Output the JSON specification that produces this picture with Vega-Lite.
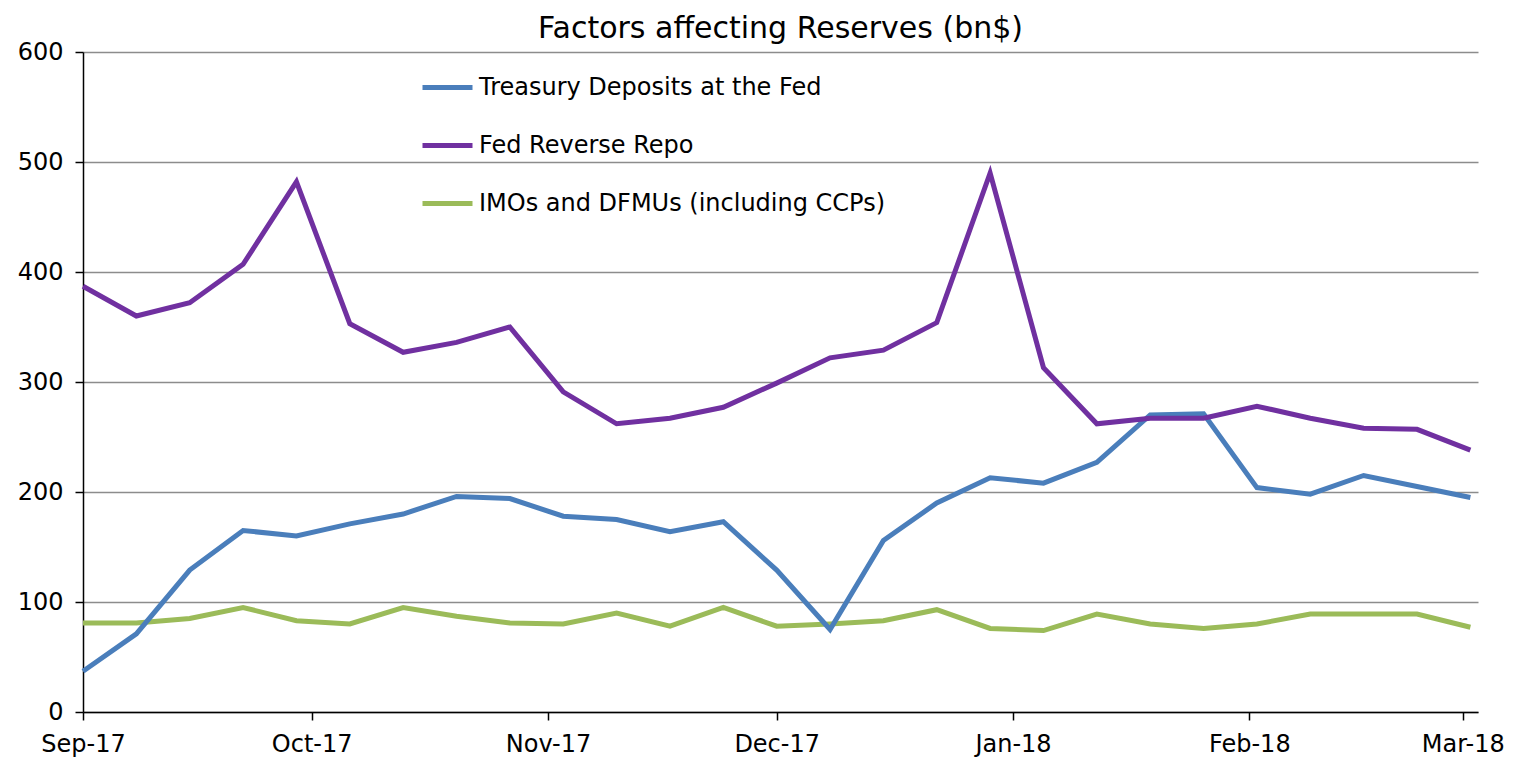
{
  "$schema": "https://vega.github.io/schema/vega-lite/v6.json",
  "autosize": "none",
  "width": 1395,
  "height": 660,
  "padding": {"left": 83, "top": 52, "right": 52, "bottom": 48},
  "background": "white",
  "title": {
    "text": "Factors affecting Reserves (bn$)",
    "font": "DejaVu Sans",
    "fontSize": 30,
    "fontWeight": "normal",
    "color": "#000000",
    "anchor": "middle",
    "offset": -4
  },
  "config": {
    "view": {"stroke": null},
    "axis": {"labelFont": "DejaVu Sans", "labelFontSize": 24, "labelColor": "#000000"}
  },
  "data": {
    "values": [
      {"date": "2017-09-06", "series": "IMOs and DFMUs (including CCPs)", "value": 81},
      {"date": "2017-09-13", "series": "IMOs and DFMUs (including CCPs)", "value": 81},
      {"date": "2017-09-20", "series": "IMOs and DFMUs (including CCPs)", "value": 85},
      {"date": "2017-09-27", "series": "IMOs and DFMUs (including CCPs)", "value": 95},
      {"date": "2017-10-04", "series": "IMOs and DFMUs (including CCPs)", "value": 83},
      {"date": "2017-10-11", "series": "IMOs and DFMUs (including CCPs)", "value": 80},
      {"date": "2017-10-18", "series": "IMOs and DFMUs (including CCPs)", "value": 95},
      {"date": "2017-10-25", "series": "IMOs and DFMUs (including CCPs)", "value": 87},
      {"date": "2017-11-01", "series": "IMOs and DFMUs (including CCPs)", "value": 81},
      {"date": "2017-11-08", "series": "IMOs and DFMUs (including CCPs)", "value": 80},
      {"date": "2017-11-15", "series": "IMOs and DFMUs (including CCPs)", "value": 90},
      {"date": "2017-11-22", "series": "IMOs and DFMUs (including CCPs)", "value": 78},
      {"date": "2017-11-29", "series": "IMOs and DFMUs (including CCPs)", "value": 95},
      {"date": "2017-12-06", "series": "IMOs and DFMUs (including CCPs)", "value": 78},
      {"date": "2017-12-13", "series": "IMOs and DFMUs (including CCPs)", "value": 80},
      {"date": "2017-12-20", "series": "IMOs and DFMUs (including CCPs)", "value": 83},
      {"date": "2017-12-27", "series": "IMOs and DFMUs (including CCPs)", "value": 93},
      {"date": "2018-01-03", "series": "IMOs and DFMUs (including CCPs)", "value": 76},
      {"date": "2018-01-10", "series": "IMOs and DFMUs (including CCPs)", "value": 74},
      {"date": "2018-01-17", "series": "IMOs and DFMUs (including CCPs)", "value": 89},
      {"date": "2018-01-24", "series": "IMOs and DFMUs (including CCPs)", "value": 80},
      {"date": "2018-01-31", "series": "IMOs and DFMUs (including CCPs)", "value": 76},
      {"date": "2018-02-07", "series": "IMOs and DFMUs (including CCPs)", "value": 80},
      {"date": "2018-02-14", "series": "IMOs and DFMUs (including CCPs)", "value": 89},
      {"date": "2018-02-21", "series": "IMOs and DFMUs (including CCPs)", "value": 89},
      {"date": "2018-02-28", "series": "IMOs and DFMUs (including CCPs)", "value": 89},
      {"date": "2018-03-07", "series": "IMOs and DFMUs (including CCPs)", "value": 77},
      {"date": "2017-09-06", "series": "Treasury Deposits at the Fed", "value": 37},
      {"date": "2017-09-13", "series": "Treasury Deposits at the Fed", "value": 71},
      {"date": "2017-09-20", "series": "Treasury Deposits at the Fed", "value": 129},
      {"date": "2017-09-27", "series": "Treasury Deposits at the Fed", "value": 165},
      {"date": "2017-10-04", "series": "Treasury Deposits at the Fed", "value": 160},
      {"date": "2017-10-11", "series": "Treasury Deposits at the Fed", "value": 171},
      {"date": "2017-10-18", "series": "Treasury Deposits at the Fed", "value": 180},
      {"date": "2017-10-25", "series": "Treasury Deposits at the Fed", "value": 196},
      {"date": "2017-11-01", "series": "Treasury Deposits at the Fed", "value": 194},
      {"date": "2017-11-08", "series": "Treasury Deposits at the Fed", "value": 178},
      {"date": "2017-11-15", "series": "Treasury Deposits at the Fed", "value": 175},
      {"date": "2017-11-22", "series": "Treasury Deposits at the Fed", "value": 164},
      {"date": "2017-11-29", "series": "Treasury Deposits at the Fed", "value": 173},
      {"date": "2017-12-06", "series": "Treasury Deposits at the Fed", "value": 129},
      {"date": "2017-12-13", "series": "Treasury Deposits at the Fed", "value": 75},
      {"date": "2017-12-20", "series": "Treasury Deposits at the Fed", "value": 156},
      {"date": "2017-12-27", "series": "Treasury Deposits at the Fed", "value": 190},
      {"date": "2018-01-03", "series": "Treasury Deposits at the Fed", "value": 213},
      {"date": "2018-01-10", "series": "Treasury Deposits at the Fed", "value": 208},
      {"date": "2018-01-17", "series": "Treasury Deposits at the Fed", "value": 227},
      {"date": "2018-01-24", "series": "Treasury Deposits at the Fed", "value": 270},
      {"date": "2018-01-31", "series": "Treasury Deposits at the Fed", "value": 271},
      {"date": "2018-02-07", "series": "Treasury Deposits at the Fed", "value": 204},
      {"date": "2018-02-14", "series": "Treasury Deposits at the Fed", "value": 198},
      {"date": "2018-02-21", "series": "Treasury Deposits at the Fed", "value": 215},
      {"date": "2018-02-28", "series": "Treasury Deposits at the Fed", "value": 205},
      {"date": "2018-03-07", "series": "Treasury Deposits at the Fed", "value": 195},
      {"date": "2017-09-06", "series": "Fed Reverse Repo", "value": 387},
      {"date": "2017-09-13", "series": "Fed Reverse Repo", "value": 360},
      {"date": "2017-09-20", "series": "Fed Reverse Repo", "value": 372},
      {"date": "2017-09-27", "series": "Fed Reverse Repo", "value": 407},
      {"date": "2017-10-04", "series": "Fed Reverse Repo", "value": 482},
      {"date": "2017-10-11", "series": "Fed Reverse Repo", "value": 353},
      {"date": "2017-10-18", "series": "Fed Reverse Repo", "value": 327},
      {"date": "2017-10-25", "series": "Fed Reverse Repo", "value": 336},
      {"date": "2017-11-01", "series": "Fed Reverse Repo", "value": 350},
      {"date": "2017-11-08", "series": "Fed Reverse Repo", "value": 291},
      {"date": "2017-11-15", "series": "Fed Reverse Repo", "value": 262},
      {"date": "2017-11-22", "series": "Fed Reverse Repo", "value": 267},
      {"date": "2017-11-29", "series": "Fed Reverse Repo", "value": 277},
      {"date": "2017-12-06", "series": "Fed Reverse Repo", "value": 299},
      {"date": "2017-12-13", "series": "Fed Reverse Repo", "value": 322},
      {"date": "2017-12-20", "series": "Fed Reverse Repo", "value": 329},
      {"date": "2017-12-27", "series": "Fed Reverse Repo", "value": 354},
      {"date": "2018-01-03", "series": "Fed Reverse Repo", "value": 490},
      {"date": "2018-01-10", "series": "Fed Reverse Repo", "value": 313},
      {"date": "2018-01-17", "series": "Fed Reverse Repo", "value": 262},
      {"date": "2018-01-24", "series": "Fed Reverse Repo", "value": 267},
      {"date": "2018-01-31", "series": "Fed Reverse Repo", "value": 267},
      {"date": "2018-02-07", "series": "Fed Reverse Repo", "value": 278},
      {"date": "2018-02-14", "series": "Fed Reverse Repo", "value": 267},
      {"date": "2018-02-21", "series": "Fed Reverse Repo", "value": 258},
      {"date": "2018-02-28", "series": "Fed Reverse Repo", "value": 257},
      {"date": "2018-03-07", "series": "Fed Reverse Repo", "value": 238}
    ]
  },
  "mark": {"type": "line", "strokeWidth": 5, "strokeJoin": "miter", "clip": false},
  "encoding": {
    "x": {
      "field": "date",
      "type": "temporal",
      "scale": {
        "type": "utc",
        "domain": [
          {"year": 2017, "month": 9, "date": 6, "utc": true},
          {"year": 2018, "month": 3, "date": 8, "utc": true}
        ]
      },
      "axis": {
        "title": null,
        "format": "%b-%y",
        "values": [
          {"year": 2017, "month": 9, "date": 6, "utc": true},
          {"year": 2017, "month": 10, "date": 6, "utc": true},
          {"year": 2017, "month": 11, "date": 6, "utc": true},
          {"year": 2017, "month": 12, "date": 6, "utc": true},
          {"year": 2018, "month": 1, "date": 6, "utc": true},
          {"year": 2018, "month": 2, "date": 6, "utc": true},
          {"year": 2018, "month": 3, "date": 6, "utc": true}
        ],
        "grid": false,
        "domainColor": "#000000",
        "domainWidth": 1.5,
        "tickColor": "#000000",
        "tickWidth": 1.5,
        "tickSize": 8,
        "labelPadding": 12,
        "labelFlush": false,
        "labelOverlap": false
      }
    },
    "y": {
      "field": "value",
      "type": "quantitative",
      "scale": {"domain": [0, 600], "nice": false},
      "axis": {
        "title": null,
        "values": [0, 100, 200, 300, 400, 500, 600],
        "grid": true,
        "gridColor": "#8c8c8c",
        "gridWidth": 1.5,
        "domainColor": "#000000",
        "domainWidth": 1.5,
        "tickColor": "#000000",
        "tickWidth": 1.5,
        "tickSize": 8,
        "labelPadding": 12
      }
    },
    "color": {
      "field": "series",
      "type": "nominal",
      "scale": {
        "domain": ["Treasury Deposits at the Fed", "Fed Reverse Repo", "IMOs and DFMUs (including CCPs)"],
        "range": ["#4a7ebb", "#7030a0", "#9bbb59"]
      },
      "legend": {
        "title": null,
        "orient": "none",
        "legendX": 337,
        "legendY": 8,
        "symbolType": "stroke",
        "symbolSize": 2500,
        "symbolStrokeWidth": 5,
        "labelFont": "DejaVu Sans",
        "labelFontSize": 24,
        "labelColor": "#000000",
        "labelOffset": 4,
        "labelLimit": 700,
        "rowPadding": 18,
        "padding": 0
      }
    }
  }
}
